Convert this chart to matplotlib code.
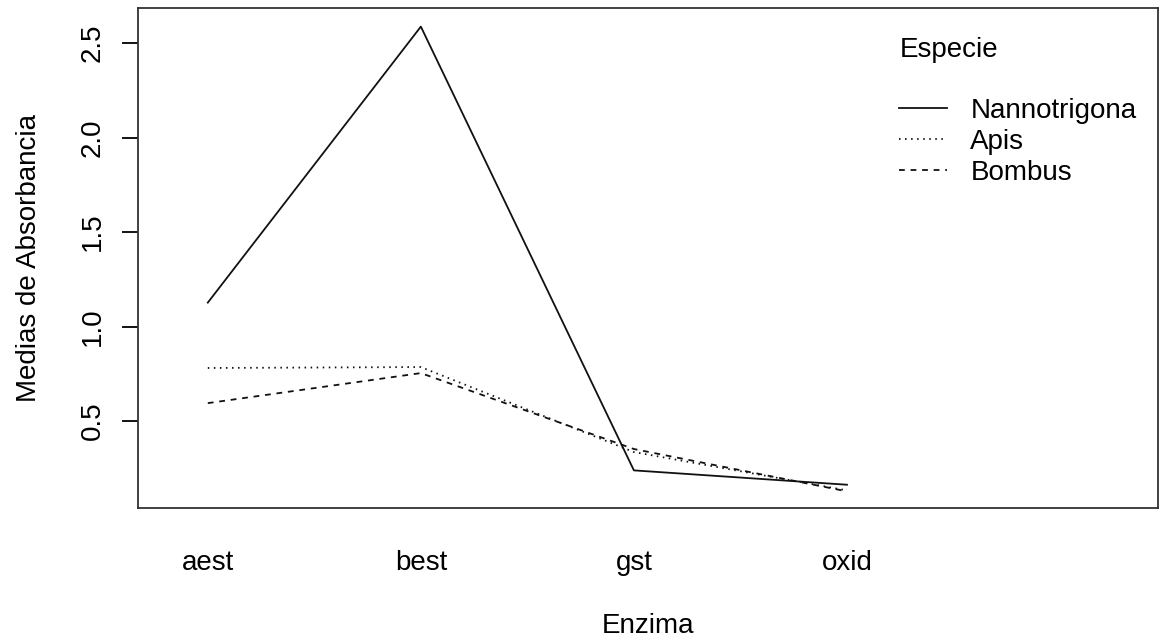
import matplotlib
matplotlib.use("Agg")
import matplotlib.pyplot as plt

plt.rcParams['font.family'] = ['Liberation Sans', 'DejaVu Sans']

enzimas = ["aest", "best", "gst", "oxid"]
especies = ["Nannotrigona", "Apis", "Bombus"]
nannotrigona = [1.127, 2.588, 0.239, 0.163]
apis = [0.781, 0.786, 0.336, 0.133]
bombus = [0.595, 0.754, 0.352, 0.128]
yticks = [0.5, 1.0, 1.5, 2.0, 2.5]

fig = plt.figure(figsize=(11.69, 6.38), dpi=100)
ax = fig.add_axes([0.1178, 0.2038, 0.9906 - 0.1178, 0.987 - 0.2038])

xs = [1, 2, 3, 4]
lw = 1.3
fs = 20
l1, = ax.plot(xs, nannotrigona, color="#111111", lw=lw, label=especies[0])
l2, = ax.plot(xs, apis, color="#111111", lw=lw, label=especies[1])
l2.set_dashes((0.85, 2.5))
l3, = ax.plot(xs, bombus, color="#111111", lw=lw, label=especies[2])
l3.set_dashes((3.2, 3.2))

ax.set_xlim(0.671, 5.46)
ax.set_ylim(0.04, 2.685)

ax.set_xticks(xs)
ax.set_xticklabels(enzimas, fontsize=fs)
ax.tick_params(axis='x', length=0, pad=30)
ax.set_yticks(yticks)
ax.set_yticklabels(["%.1f" % v for v in yticks], fontsize=fs, rotation=90, va="center")
ax.tick_params(axis='y', length=11.5, width=lw, pad=11.5)

for s in ax.spines.values():
    s.set_linewidth(lw)
    s.set_color("#333333")

ax.set_xlabel("Enzima", fontsize=fs, labelpad=27)
ax.set_ylabel("Medias de Absorbancia", fontsize=fs, labelpad=27)

leg = ax.legend(title="Especie\n", loc="upper left", bbox_to_anchor=(0.733, 0.970),
                frameon=False, fontsize=fs, title_fontsize=fs, borderpad=0,
                handlelength=1.7, handletextpad=0.85, labelspacing=0.18,
                alignment="left")

fig.savefig("out.png", dpi=100)
